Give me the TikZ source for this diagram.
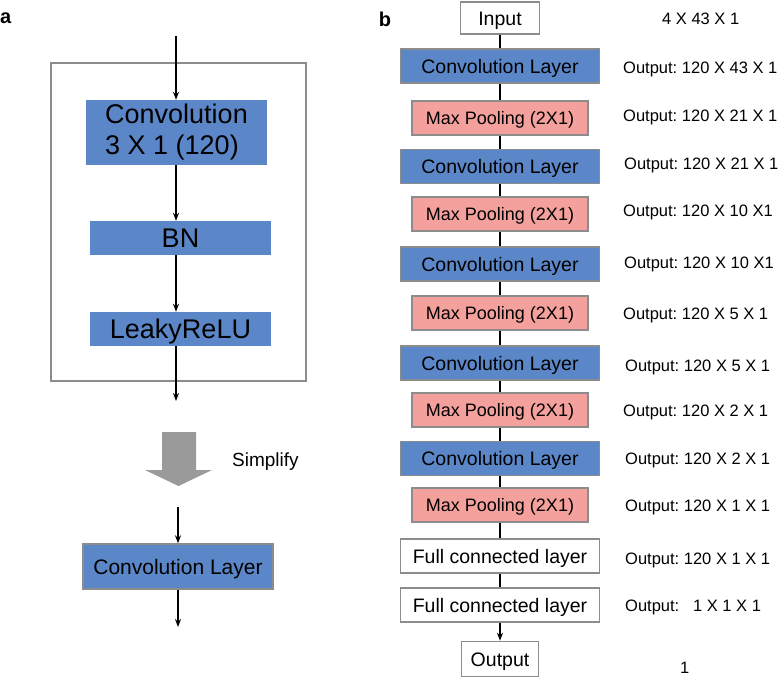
\documentclass[tikz,border=0pt]{standalone}
\usepackage{fontspec}
\setmainfont{Liberation Sans}
\usetikzlibrary{arrows.meta}
\frenchspacing

\definecolor{convblue}{HTML}{5B87C8}
\definecolor{poolpink}{HTML}{F4A09C}
\definecolor{framegray}{HTML}{8C8C8C}
\definecolor{arrowgray}{HTML}{9A9A9A}

\tikzset{
    bigtext/.style={font=\fontsize{27}{31}\selectfont, text height=19.5pt, text depth=0pt},
    layer/.style={draw=framegray, line width=1.6pt, inner sep=0pt, minimum height=34pt,
        text height=14.5pt, text depth=0pt, font=\fontsize{19.5}{23}\selectfont},
    convbox/.style={layer, fill=convblue, minimum width=199pt},
    poolbox/.style={layer, fill=poolpink, minimum width=176pt, text height=13.5pt,
        font=\fontsize{18}{21}\selectfont},
    fcbox/.style={layer, fill=white, minimum width=199pt},
    shapelab/.style={anchor=west, inner sep=0pt, text height=12pt, text depth=0pt,
        font=\fontsize{16.5}{19}\selectfont},
    flow/.style={line width=1.4pt, -{Stealth[length=8pt,width=6pt]}},
    link/.style={line width=1.6pt}
}

\begin{document}
\begin{tikzpicture}[x=1pt, y=-1pt]
    \useasboundingbox (0,0) rectangle (778,678);

    % panel labels
    \node[font=\fontsize{20}{24}\selectfont\bfseries, anchor=west, inner sep=0pt] (pa) at (0,18) {a};
    \node[font=\fontsize{20}{24}\selectfont\bfseries, inner sep=0pt] (pb) at (385,19) {b};

    % ---- panel a: one block ----
    \node[draw=framegray, line width=1.4pt, minimum width=255pt, minimum height=318pt] (block) at (178.5,222) {};
    \node[fill=convblue, minimum width=181pt, minimum height=65pt, inner sep=0pt, align=left,
        font=\fontsize{27}{31}\selectfont] (conv) at (176.5,132.5) {Convolution\\3 X 1 (120)};
    \node[fill=convblue, minimum width=181pt, minimum height=34pt, inner sep=0pt, bigtext] (bn) at (180.5,238) {BN};
    \node[fill=convblue, minimum width=181pt, minimum height=34pt, inner sep=0pt, bigtext] (relu) at (180.5,329) {LeakyReLU};

    \coordinate (ain) at (176,36);
    \coordinate (aout) at (176,401);
    \draw[flow] (ain) -- (ain |- conv.north);
    \draw[flow] (ain |- conv.south) -- (ain |- bn.north);
    \draw[flow] (ain |- bn.south) -- (ain |- relu.north);
    \draw[flow] (ain |- relu.south) -- (aout);

    % simplify arrow
    \fill[arrowgray] (162,432) -- (196,432) -- (196,470) -- (212,470) -- (178.5,486)
        -- (145,470) -- (162,470) -- cycle;
    \node[anchor=west, inner sep=0pt, font=\fontsize{19}{22}\selectfont] (simp) at (232,462) {Simplify};

    % simplified layer
    \node[draw=framegray, line width=1.4pt, fill=convblue, minimum width=190pt, minimum height=45pt,
        inner sep=0pt, text height=15pt, text depth=0pt, font=\fontsize{21}{25}\selectfont] (convs) at (178,566.5) {Convolution Layer};
    \coordinate (sin) at (178,507);
    \coordinate (sout) at (178,627);
    \draw[flow] (sin) -- (convs.north);
    \draw[flow] (convs.south) -- (sout);

    % ---- panel b: network ----
    \node[fcbox, minimum width=79pt, minimum height=32pt] (inp) at (500,18) {Input};
    \node[convbox] (c1) at (500,66) {Convolution Layer};
    \node[poolbox] (p1) at (500,118) {Max Pooling (2X1)};
    \node[convbox] (c2) at (500,166.5) {Convolution Layer};
    \node[poolbox] (p2) at (500,214) {Max Pooling (2X1)};
    \node[convbox] (c3) at (500,264) {Convolution Layer};
    \node[poolbox] (p3) at (500,313) {Max Pooling (2X1)};
    \node[convbox] (c4) at (500,363) {Convolution Layer};
    \node[poolbox] (p4) at (500,410) {Max Pooling (2X1)};
    \node[convbox] (c5) at (500,458.5) {Convolution Layer};
    \node[poolbox] (p5) at (500,505) {Max Pooling (2X1)};
    \node[fcbox] (fc1) at (500,556) {Full connected layer};
    \node[fcbox] (fc2) at (500,605) {Full connected layer};
    \node[fcbox, minimum width=77pt, minimum height=35pt] (outp) at (500,659) {Output};

    \draw[link] (inp) -- (c1);
    \draw[link] (c1) -- (p1);
    \draw[link] (p1) -- (c2);
    \draw[link] (c2) -- (p2);
    \draw[link] (p2) -- (c3);
    \draw[link] (c3) -- (p3);
    \draw[link] (p3) -- (c4);
    \draw[link] (c4) -- (p4);
    \draw[link] (p4) -- (c5);
    \draw[link] (c5) -- (p5);
    \draw[link] (p5) -- (fc1);
    \draw[link] (fc1) -- (fc2);
    \draw[flow] (fc2) -- (outp);

    % output shapes
    \node[shapelab] (s0) at (662,18) {4 X 43 X 1};
    \node[shapelab] (s1) at (623,67) {Output: 120 X 43 X 1};
    \node[shapelab] (s2) at (623,115) {Output: 120 X 21 X 1};
    \node[shapelab] (s3) at (624,163) {Output: 120 X 21 X 1};
    \node[shapelab] (s4) at (623,210) {Output: 120 X 10 X1};
    \node[shapelab] (s5) at (624,262) {Output: 120 X 10 X1};
    \node[shapelab] (s6) at (623,313) {Output: 120 X 5 X 1};
    \node[shapelab] (s7) at (625,365) {Output: 120 X 5 X 1};
    \node[shapelab] (s8) at (623,410) {Output: 120 X 2 X 1};
    \node[shapelab] (s9) at (625,458) {Output: 120 X 2 X 1};
    \node[shapelab] (s10) at (625,505) {Output: 120 X 1 X 1};
    \node[shapelab] (s11) at (625,558) {Output: 120 X 1 X 1};
    \node[shapelab] (s12) at (625,605) {Output:\ \ \ 1 X 1 X 1};
    \node[shapelab] (s13) at (680,667) {1};
\end{tikzpicture}
\end{document}
